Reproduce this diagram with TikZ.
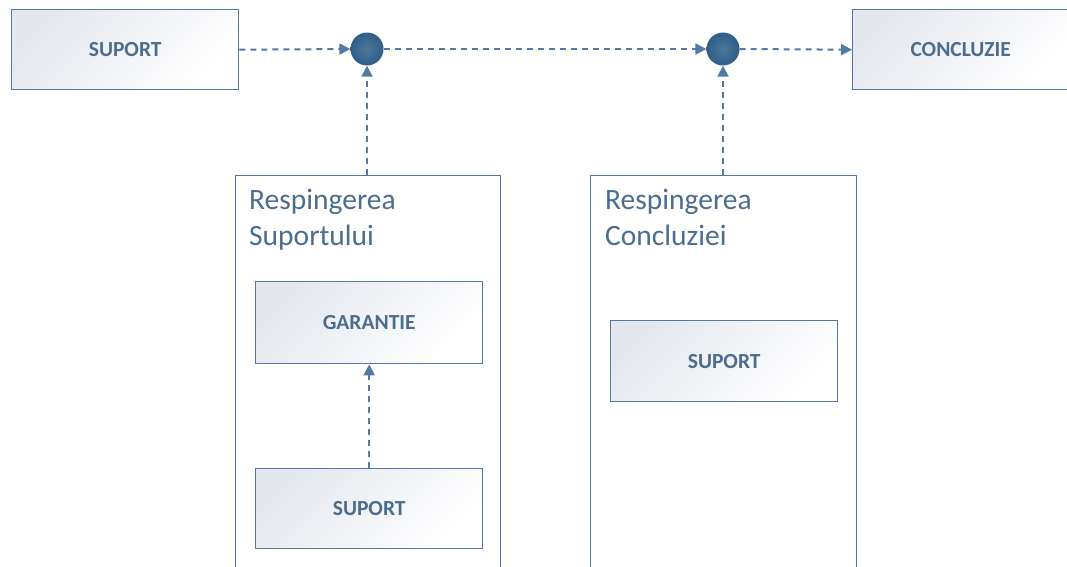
\documentclass[tikz,border=0pt]{standalone}
\usepackage{fontspec}
\setmainfont{Carlito}
\usetikzlibrary{arrows.meta,positioning}
\definecolor{edge}{HTML}{5079A3}
\definecolor{ink}{HTML}{4B6D8F}
\definecolor{dot}{HTML}{2F5E89}
\definecolor{boxtop}{HTML}{E4E7EE}
\tikzset{
  card/.style={draw=edge, line width=1.4pt, rectangle, anchor=north west,
    left color=boxtop, right color=white, shading angle=45,
    text=ink, font=\fontsize{21.5}{24}\selectfont\bfseries},
  frame/.style={draw=edge, line width=1.4pt, rectangle, anchor=north west, fill=white},
  heading/.style={anchor=north west, align=left, text=ink, inner sep=0pt,
    font=\fontsize{29.5}{36}\selectfont},
  junction/.style={circle, inner sep=0pt, minimum size=33pt, draw=none,
    inner color=dot!85, outer color=dot},
  flow/.style={draw=edge, line width=2pt, dash pattern=on 6pt off 5pt,
    -{Triangle[length=11pt,width=11pt]}},
}
\begin{document}
\begin{tikzpicture}[x=1pt,y=-1pt]
\useasboundingbox (0,0) rectangle (1067,566);
\clip (0,0) rectangle (1067,566);
\fill[white] (0,0) rectangle (1067,566);

% top row
\node[card, minimum width=227pt, minimum height=80pt] (sup) at (11,9) {SUPORT};
\node[card, minimum width=216pt, minimum height=80pt] (conc) at (852,9) {CONCLUZIE};
\node[junction] (j1) at (367,49) {};
\node[junction] (j2) at (723,49) {};

% rebuttal frames
\node[frame, minimum width=265pt, minimum height=420pt] (f1) at (235,175) {};
\node[frame, minimum width=266pt, minimum height=420pt] (f2) at (590,175) {};
\node[heading] (h1) at (249,189) {Respingerea\\Suportului};
\node[heading] (h2) at (605,189) {Respingerea\\Concluziei};

\node[card, minimum width=227pt, minimum height=82pt] (gar) at (255,281) {GARANTIE};
\node[card, minimum width=227pt, minimum height=80pt] (sup2) at (255,468) {SUPORT};
\node[card, minimum width=227pt, minimum height=81pt] (sup3) at (610,320) {SUPORT};

% connectors
\draw[flow] (sup.east) -- (j1.west);
\draw[flow] (j1.east) -- (j2.west);
\draw[flow] (j2.east) -- (conc.west);
\draw[flow] (f1.north -| j1) -- (j1.south);
\draw[flow] (f2.north -| j2) -- (j2.south);
\draw[flow] (sup2.north) -- (gar.south);
\end{tikzpicture}
\end{document}
